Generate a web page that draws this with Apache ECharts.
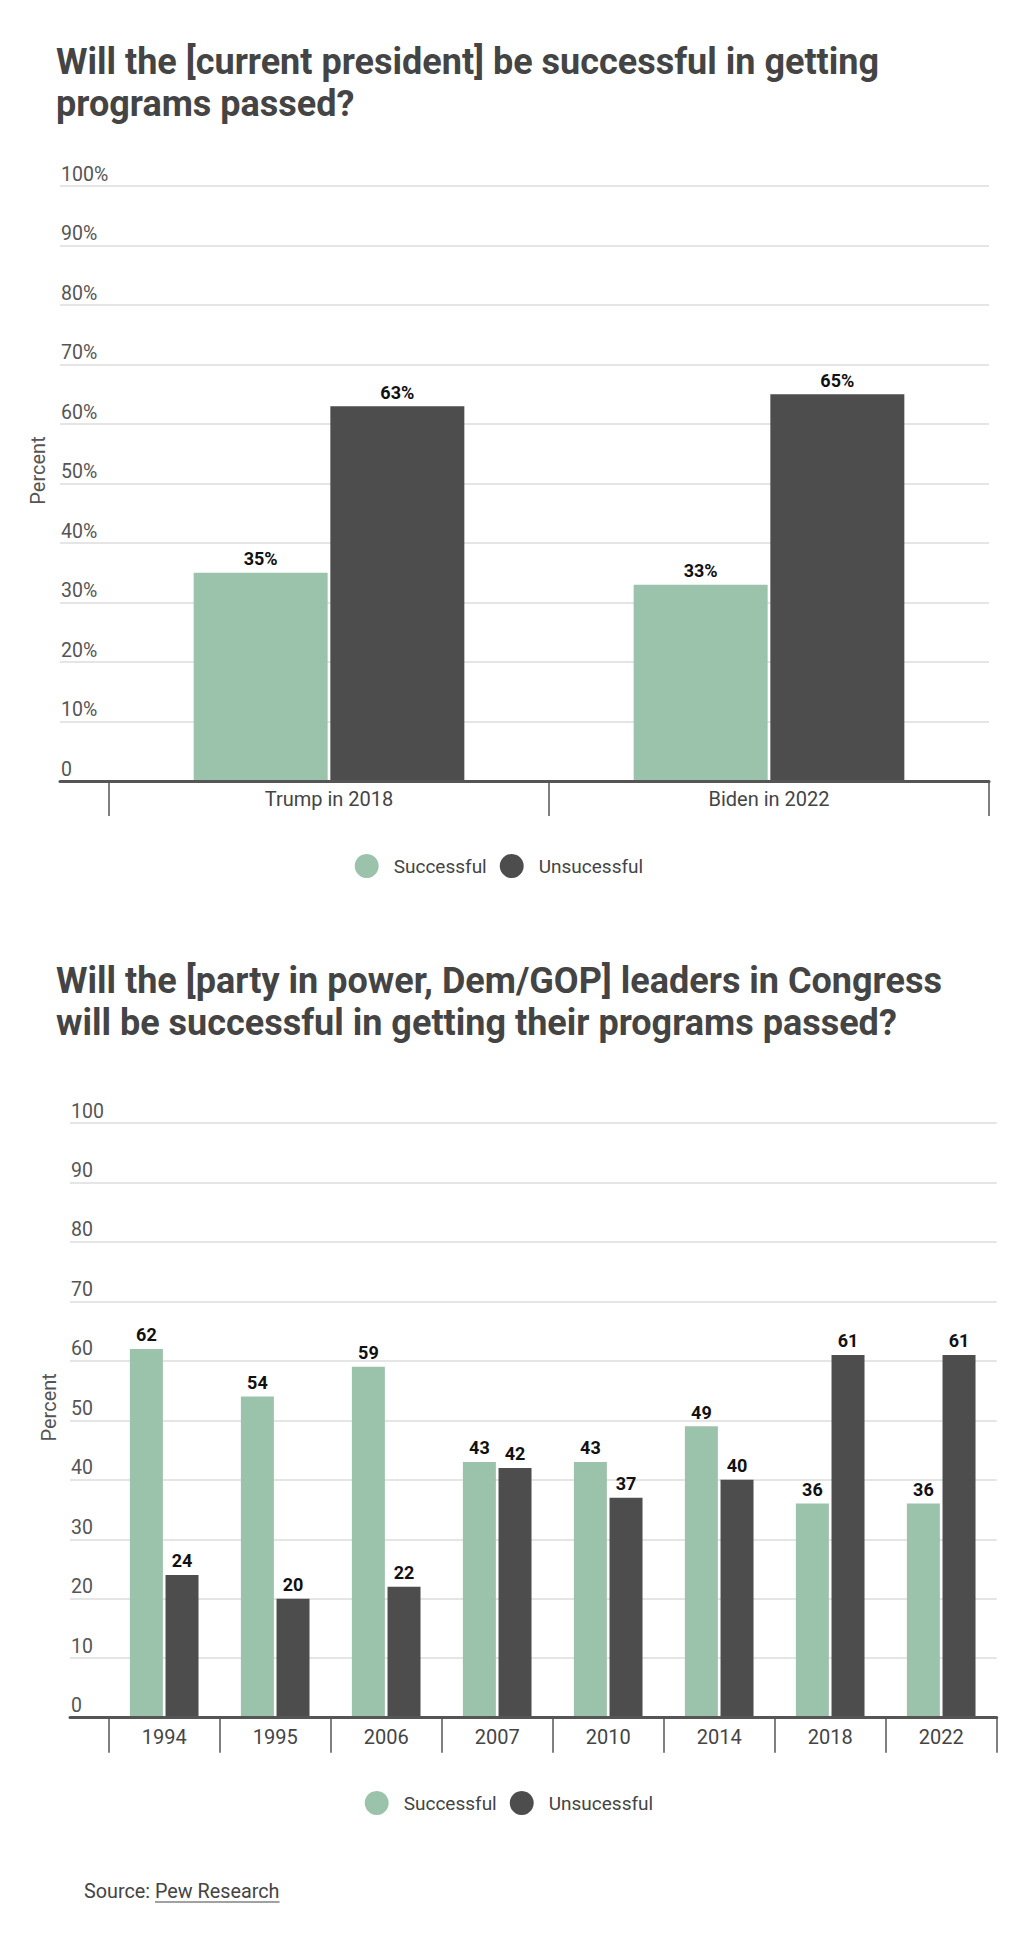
<!DOCTYPE html>
<html>
<head>
<meta charset="utf-8">
<script src="https://cdn.jsdelivr.net/npm/echarts@6/dist/echarts.min.js"></script>
<style>
html,body{margin:0;padding:0;background:#fff;}
#chart{width:1036px;height:1956px;}
</style>
</head>
<body>
<div id="chart"></div>
<script>
// ---- data ----
const title1 = 'Will the [current president] be successful in getting\nprograms passed?';
const title2 = 'Will the [party in power, Dem/GOP] leaders in Congress\nwill be successful in getting their programs passed?';
const seriesNames = ['Successful', 'Unsucessful'];
const categories1 = ['Trump in 2018', 'Biden in 2022'];
const successful1 = [35, 33];
const unsuccessful1 = [63, 65];
const categories2 = ['1994', '1995', '2006', '2007', '2010', '2014', '2018', '2022'];
const successful2 = [62, 54, 59, 43, 43, 49, 36, 36];
const unsuccessful2 = [24, 20, 22, 42, 37, 40, 61, 61];
const yMin = 0, yMax = 100, yStep = 10;
const axisName = 'Percent';
const sourceLabel = 'Source: ';
const sourceName = 'Pew Research';

// ---- style ----
const FONT = 'Roboto';
const GREEN = '#9BC2AB';
const DARK = '#4D4D4D';
const TEXT = '#444444';

const chart = echarts.init(document.getElementById('chart'), null, {renderer: 'svg'});

function gridPair(top, bottom, outerLeft, innerLeft, right) {
  return [
    {left: outerLeft, right: right, top: top, bottom: bottom, containLabel: false},
    {left: innerLeft, right: right, top: top, bottom: bottom, containLabel: false}
  ];
}

const grids = [].concat(
  gridPair(186, 1956 - 781, 60, 109, 47),
  gridPair(1123, 1956 - 1717.7, 70, 108.7, 39.3)
);

function outerX(gridIndex) {
  return {
    type: 'category', gridIndex: gridIndex, data: [''], z: 5,
    axisLine: {show: true, lineStyle: {color: '#555', width: 3}},
    axisTick: {show: false}, axisLabel: {show: false}, splitLine: {show: false}
  };
}
function innerX(gridIndex, cats, margin) {
  return {
    type: 'category', gridIndex: gridIndex, data: cats, z: 5,
    axisLine: {show: false},
    axisTick: {show: true, length: 35, interval: 0, lineStyle: {color: '#555', width: 1.5}},
    axisLabel: {show: true, interval: 0, margin: margin, color: TEXT, fontSize: 20, fontFamily: FONT},
    splitLine: {show: false}
  };
}
function outerY(gridIndex, pct, nameGap) {
  return {
    type: 'value', gridIndex: gridIndex, min: yMin, max: yMax, interval: yStep,
    name: axisName, nameLocation: 'middle', nameGap: nameGap,
    nameTextStyle: {color: '#555', fontSize: 20, fontFamily: FONT, padding: [0, 0, 0, 26]},
    axisLine: {show: false}, axisTick: {show: false},
    axisLabel: {
      inside: true, margin: 1, verticalAlign: 'bottom', align: 'left',
      color: '#555', fontSize: 19.5, fontFamily: FONT, padding: [0, 0, 2, 0],
      formatter: v => (v === 0 ? '0' : (pct ? v + '%' : String(v)))
    },
    splitLine: {show: true, lineStyle: {color: '#dddddd', width: 1.5}}
  };
}
function innerY(gridIndex) {
  return {type: 'value', gridIndex: gridIndex, min: yMin, max: yMax, interval: yStep, show: false, splitLine: {show: false}};
}

function barSeries(name, data, color, axisIdx, barWidth, barGap, pct) {
  return {
    name: name, type: 'bar', data: data,
    xAxisIndex: axisIdx, yAxisIndex: axisIdx,
    barWidth: barWidth, barGap: barGap,
    itemStyle: {color: color},
    label: {
      show: true, position: 'top', distance: 5,
      color: '#111', fontSize: 18, fontWeight: 'bold', fontFamily: FONT,
      formatter: p => p.value + (pct ? '%' : '')
    }
  };
}

function legendAt(left, top) {
  return {
    data: seriesNames, left: left, top: top, orient: 'horizontal', padding: 0,
    icon: 'circle', itemWidth: 24, itemHeight: 24, itemGap: 13,
    textStyle: {color: TEXT, fontSize: 19, fontFamily: FONT, padding: [0, 0, 0, 10]}
  };
}

// measure source text widths for underline
const SRC_SIZE = 19.8;
const mctx = document.createElement('canvas').getContext('2d');
mctx.font = SRC_SIZE + 'px ' + FONT;
const wLabel = mctx.measureText(sourceLabel).width;
const wName = mctx.measureText(sourceName).width;
const srcX = 84, srcY = 1893;

const TITLE_STYLE = {color: TEXT, fontSize: 36, fontWeight: 'bold', fontFamily: FONT, lineHeight: 42.5};

const option = {
  backgroundColor: '#ffffff',
  animation: false,
  textStyle: {fontFamily: FONT},
  title: [
    {text: title1, left: 51, top: 35.5, textStyle: TITLE_STYLE},
    {text: title2, left: 51, top: 954.5, textStyle: TITLE_STYLE}
  ],
  legend: [legendAt(354.7, 854), legendAt(364.7, 1791)],
  grid: grids,
  xAxis: [outerX(0), innerX(1, categories1, 8), outerX(2), innerX(3, categories2, 9.5)],
  yAxis: [outerY(0, true, 12), innerY(1), outerY(2, false, 11), innerY(3)],
  series: [
    barSeries(seriesNames[0], successful1, GREEN, 1, 134, '2%', true),
    barSeries(seriesNames[1], unsuccessful1, DARK, 1, 134, '2%', true),
    barSeries(seriesNames[0], successful2, GREEN, 3, 33, '8%', false),
    barSeries(seriesNames[1], unsuccessful2, DARK, 3, 33, '8%', false)
  ],
  graphic: [
    {type: 'text', left: srcX, top: srcY - 12, style: {text: sourceLabel + sourceName, fill: TEXT, fontSize: SRC_SIZE, fontFamily: FONT}},
    {type: 'line', shape: {x1: srcX + wLabel, y1: srcY + 9, x2: srcX + wLabel + wName, y2: srcY + 9}, style: {stroke: TEXT, lineWidth: 1.2}}
  ]
};
chart.setOption(option);
</script>
</body>
</html>
